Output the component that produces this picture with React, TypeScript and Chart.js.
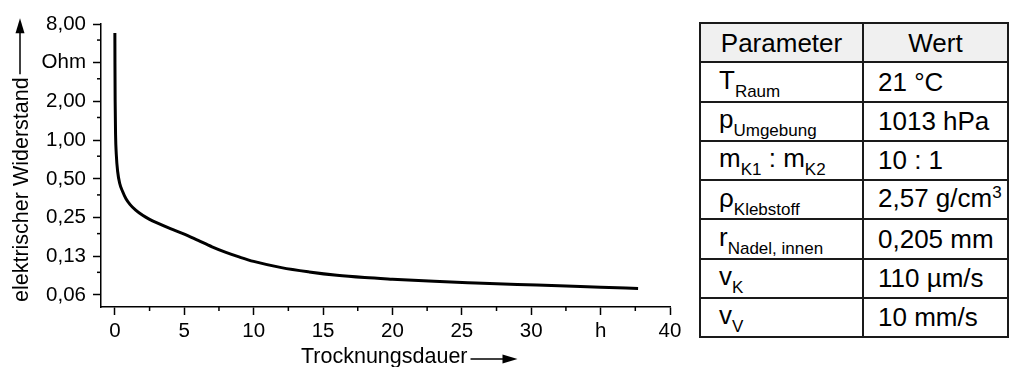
import React, { useEffect, useRef } from "react";
import { Chart, registerables } from "chart.js";

Chart.register(...registerables);

// ---- data ----
const hours = [0, 0.005, 0.02, 0.05, 0.1, 0.2, 0.35, 0.55, 0.8, 1.1, 1.5, 2, 2.5, 3, 4, 5, 6, 7, 8, 9, 10, 12, 14, 16, 18, 20, 23, 26, 29, 32, 35, 37.7];
const ohms = [6.8, 4.0, 2.0, 1.1, 0.78, 0.57, 0.46, 0.4, 0.35, 0.315, 0.285, 0.26, 0.242, 0.228, 0.205, 0.186, 0.166, 0.148, 0.134, 0.123, 0.114, 0.102, 0.0945, 0.089, 0.0855, 0.083, 0.0798, 0.0775, 0.0755, 0.0738, 0.0718, 0.0703];

const yTickValues = [0.0625, 0.125, 0.25, 0.5, 1, 2, 4, 8];
const yTickLabels = ["0,06", "0,13", "0,25", "0,50", "1,00", "2,00", "Ohm", "8,00"];
const yMinorTicks = [0.09375, 0.1875, 0.375, 0.75, 1.5, 3, 6];

const xTickValues = [0, 5, 10, 15, 20, 25, 30, 35, 40];
const xTickLabels = ["0", "5", "10", "15", "20", "25", "30", "h", "40"];
const xMinorTicks = [2.5, 7.5, 12.5, 17.5, 22.5, 27.5, 32.5, 37.5];

const xTitle = "Trocknungsdauer";
const yTitle = "elektrischer Widerstand";

// table
const tableHeader = ["Parameter", "Wert"];
const paramParts: [string, string][][] = [
  [["T", "Raum"]],
  [["p", "Umgebung"]],
  [["m", "K1"], [" : m", "K2"]],
  [["ρ", "Klebstoff"]],
  [["r", "Nadel, innen"]],
  [["v", "K"]],
  [["v", "V"]],
];
const paramValues = ["21 °C", "1013 hPa", "10 : 1", "2,57 g/cm", "0,205 mm", "110 µm/s", "10 mm/s"];
const paramValueSup = ["", "", "", "3", "", "", ""];

const FONT = "'Liberation Sans', Arial, sans-serif";

function drawArrowLine(ctx: CanvasRenderingContext2D, x1: number, y1: number, x2: number, y2: number) {
  const ang = Math.atan2(y2 - y1, x2 - x1);
  const headLen = 15;
  const headW = 4.5;
  ctx.beginPath();
  ctx.moveTo(x1, y1);
  ctx.lineTo(x2 - Math.cos(ang) * headLen * 0.8, y2 - Math.sin(ang) * headLen * 0.8);
  ctx.lineWidth = 1.5;
  ctx.strokeStyle = "#000";
  ctx.stroke();
  ctx.beginPath();
  ctx.moveTo(x2, y2);
  ctx.lineTo(x2 - Math.cos(ang) * headLen - Math.sin(ang) * headW, y2 - Math.sin(ang) * headLen + Math.cos(ang) * headW);
  ctx.lineTo(x2 - Math.cos(ang) * headLen + Math.sin(ang) * headW, y2 - Math.sin(ang) * headLen - Math.cos(ang) * headW);
  ctx.closePath();
  ctx.fillStyle = "#000";
  ctx.fill();
}

const decorPlugin = {
  id: "decor",
  afterDraw(chart: any) {
    const ctx: CanvasRenderingContext2D = chart.ctx;
    const area = chart.chartArea;
    const xs = chart.scales.x;
    const ys = chart.scales.y;
    ctx.save();
    ctx.strokeStyle = "#000";
    ctx.lineWidth = 1.5;
    // minor ticks
    yMinorTicks.forEach((v) => {
      const p = ys.getPixelForValue(v);
      ctx.beginPath();
      ctx.moveTo(area.left - 4, p);
      ctx.lineTo(area.left, p);
      ctx.stroke();
    });
    xMinorTicks.forEach((v) => {
      const p = xs.getPixelForValue(v);
      ctx.beginPath();
      ctx.moveTo(p, area.bottom);
      ctx.lineTo(p, area.bottom + 4);
      ctx.stroke();
    });
    // x title
    ctx.font = `21.5px ${FONT}`;
    ctx.fillStyle = "#000";
    ctx.textAlign = "left";
    ctx.textBaseline = "alphabetic";
    const xStart = area.left + 200;
    const xBase = area.bottom + 56;
    ctx.fillText(xTitle, xStart, xBase);
    const xw = ctx.measureText(xTitle).width;
    drawArrowLine(ctx, xStart + xw + 3, xBase - 4, xStart + xw + 50, xBase - 4);
    // y title
    ctx.save();
    ctx.translate(27.5, area.bottom - 5);
    ctx.rotate(-Math.PI / 2);
    ctx.fillText(yTitle, 0, 0);
    const yw = ctx.measureText(yTitle).width;
    ctx.restore();
    const yTop = area.bottom - 5 - yw;
    drawArrowLine(ctx, 20, yTop - 3, 20, yTop - 59);
    ctx.restore();
  },
};

function ResistanceChart() {
  const ref = useRef<HTMLCanvasElement | null>(null);
  useEffect(() => {
    if (!ref.current) return;
    const chart = new Chart(ref.current, {
      type: "line",
      data: {
        datasets: [
          {
            data: hours.map((h, i) => ({ x: h, y: ohms[i] })),
            borderColor: "#000",
            borderWidth: 3,
            pointRadius: 0,
            cubicInterpolationMode: "monotone",
            fill: false,
          },
        ],
      },
      options: {
        responsive: false,
        animation: false,
        devicePixelRatio: 1,
        layout: { padding: { top: 24, right: 20, left: 0, bottom: 0 } },
        plugins: { legend: { display: false }, tooltip: { enabled: false }, title: { display: false } },
        scales: {
          x: {
            type: "linear",
            min: -1,
            max: 40,
            afterBuildTicks: (scale: any) => {
              scale.ticks = xTickValues.map((v) => ({ value: v }));
            },
            afterFit: (scale: any) => {
              scale.height = 60;
            },
            ticks: {
              autoSkip: false,
              maxRotation: 0,
              padding: 4,
              color: "#000",
              font: { family: FONT, size: 20.5 },
              callback: (value: any) => {
                const i = xTickValues.indexOf(Number(value));
                return i >= 0 ? xTickLabels[i] : "";
              },
            },
            grid: { display: true, drawOnChartArea: false, tickLength: 8, tickWidth: 1.5, tickColor: "#000" },
            border: { display: true, color: "#000", width: 1.5 },
          },
          y: {
            type: "logarithmic",
            min: 0.0504,
            max: 8,
            afterBuildTicks: (scale: any) => {
              scale.ticks = yTickValues.map((v) => ({ value: v }));
            },
            afterFit: (scale: any) => {
              scale.width = 101;
            },
            ticks: {
              autoSkip: false,
              padding: 7,
              color: "#000",
              font: { family: FONT, size: 20.5 },
              callback: (value: any) => {
                const i = yTickValues.findIndex((t) => Math.abs(t - Number(value)) < 1e-9);
                return i >= 0 ? yTickLabels[i] : "";
              },
            },
            grid: { display: true, drawOnChartArea: false, tickLength: 8, tickWidth: 1.5, tickColor: "#000" },
            border: { display: true, color: "#000", width: 1.5 },
          },
        },
      } as any,
      plugins: [decorPlugin],
    });
    return () => chart.destroy();
  }, []);
  return (
    <canvas
      ref={ref}
      width={690}
      height={367}
      style={{ position: "absolute", left: 0, top: 0, width: 690, height: 367 }}
    />
  );
}

function ParamTable() {
  const border = "2px solid #1a1a1a";
  const rowH = 39.25;
  const cellBase: React.CSSProperties = {
    border,
    height: rowH,
    padding: 0,
    boxSizing: "border-box",
    verticalAlign: "middle",
    whiteSpace: "nowrap",
    lineHeight: "26px",
  };
  return (
    <table
      style={{
        position: "absolute",
        left: 699,
        top: 22,
        width: 308,
        borderCollapse: "collapse",
        fontFamily: FONT,
        fontSize: 26,
        color: "#000",
        tableLayout: "fixed",
      }}
    >
      <colgroup>
        <col style={{ width: 163 }} />
        <col style={{ width: 145 }} />
      </colgroup>
      <tbody>
        <tr>
          {tableHeader.map((h) => (
            <td key={h} style={{ ...cellBase, background: "#f0f0f0", textAlign: "center" }}>
              {h}
            </td>
          ))}
        </tr>
        {paramParts.map((parts, i) => (
          <tr key={i}>
            <td style={{ ...cellBase, paddingLeft: 18 }}>
              {parts.map(([base, sub], j) => (
                <React.Fragment key={j}>
                  <span>{base}</span>
                  <span style={{ fontSize: 17, position: "relative", top: 8 }}>{sub}</span>
                </React.Fragment>
              ))}
            </td>
            <td style={{ ...cellBase, paddingLeft: 14 }}>
              {paramValues[i]}
              {paramValueSup[i] ? (
                <span style={{ fontSize: 17, position: "relative", top: -9 }}>{paramValueSup[i]}</span>
              ) : null}
            </td>
          </tr>
        ))}
      </tbody>
    </table>
  );
}

export default function App() {
  return (
    <div style={{ position: "absolute", left: 0, top: 0, width: 1011, height: 367, background: "#fff", overflow: "hidden" }}>
      <ResistanceChart />
      <ParamTable />
    </div>
  );
}
